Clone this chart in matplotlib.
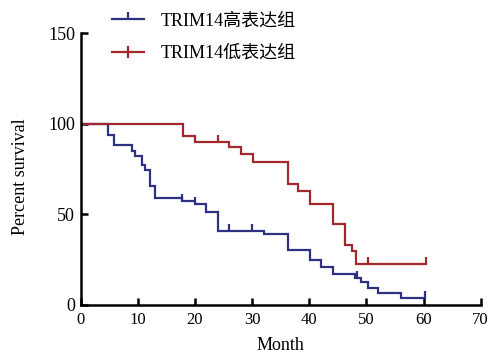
import numpy as np
import matplotlib
matplotlib.use("Agg")
import matplotlib.pyplot as plt
from matplotlib.lines import Line2D
from matplotlib.path import Path

plt.rcParams["font.family"] = ["Liberation Serif", "Noto Sans CJK SC"]

# Kaplan-Meier curves
blue_time = [0, 4.8, 5.8, 8.9, 9.5, 10.7, 11.2, 12.1, 13.0, 17.8, 20.0, 22.0, 24.1,
             32.1, 36.2, 40.1, 42.1, 44.2, 48.0, 49.0, 50.2, 52.0, 56.1, 60.2]
blue_surv = [100, 94, 88.5, 85, 82, 77.5, 74.5, 65.5, 59, 57.5, 55.5, 51.5, 41,
             39, 30.5, 25, 21, 17, 15, 12.5, 9.5, 6.4, 3.7, 3.7]
blue_cens = [17.8, 20.0, 25.9, 30.0, 48.3, 60.2]

red_time = [0, 17.9, 20.0, 26.0, 28.1, 30.1, 36.3, 38.0, 40.1, 44.2, 46.2, 47.4, 48.1, 60.4]
red_surv = [100, 93.5, 90, 87, 83.5, 79, 66.5, 63, 56, 44.5, 33, 30, 22.7, 22.7]
red_cens = [24.1, 50.3, 60.4]

labels = ["TRIM14高表达组", "TRIM14低表达组"]
colors = ["#2e3182", "#a3272d"]

xticks = [0, 10, 20, 30, 40, 50, 60, 70]
yticks = [0, 50, 100, 150]

# upward tick for censored points
tick = Path([(0, 0), (0, 1)])


def surv_at(times, surv, t):
    i = np.searchsorted(times, t, side="right") - 1
    return surv[i]


fig = plt.figure(figsize=(4.89, 3.53), dpi=100)
ax = fig.add_axes([0.165, 0.136, 0.818, 0.770])

for times, surv, cens, col in [(blue_time, blue_surv, blue_cens, colors[0]),
                               (red_time, red_surv, red_cens, colors[1])]:
    ax.step(times, surv, where="post", color=col, lw=1.6, solid_joinstyle="miter")
    cy = [surv_at(times, surv, t) for t in cens]
    ax.plot(cens, cy, linestyle="none", marker=tick, markersize=10,
            markeredgewidth=1.6, color=col)

handles = [
    Line2D([], [], color=colors[0], lw=1.6, marker=tick, markersize=10,
           markeredgewidth=1.6, label=labels[0]),
    Line2D([], [], color=colors[1], lw=1.6, marker="|", markersize=9,
           markeredgewidth=1.6, label=labels[1]),
]

ax.set_xlim(0, 70)
ax.set_ylim(0, 150)
ax.set_xticks(xticks)
ax.set_yticks(yticks)
ax.spines["top"].set_visible(False)
ax.spines["right"].set_visible(False)
for s in ["left", "bottom"]:
    ax.spines[s].set_linewidth(1.8)
ax.tick_params(direction="in", length=5, width=1.8)
ax.tick_params(axis="x", labelsize=12, pad=5)
ax.tick_params(axis="y", labelsize=13, pad=4)
ax.set_xlabel("Month", fontsize=13)
ax.set_ylabel("Percent survival", fontsize=13)
ax.xaxis.set_label_coords(0.5, -0.117)
ax.yaxis.set_label_coords(-0.13, 0.473)

fig.legend(handles=handles, loc="upper left", bbox_to_anchor=(0.196, 1.01),
           frameon=False, fontsize=13, handlelength=1.75, handletextpad=0.95,
           labelspacing=0.84, numpoints=1)

fig.savefig("out.png", dpi=100)
